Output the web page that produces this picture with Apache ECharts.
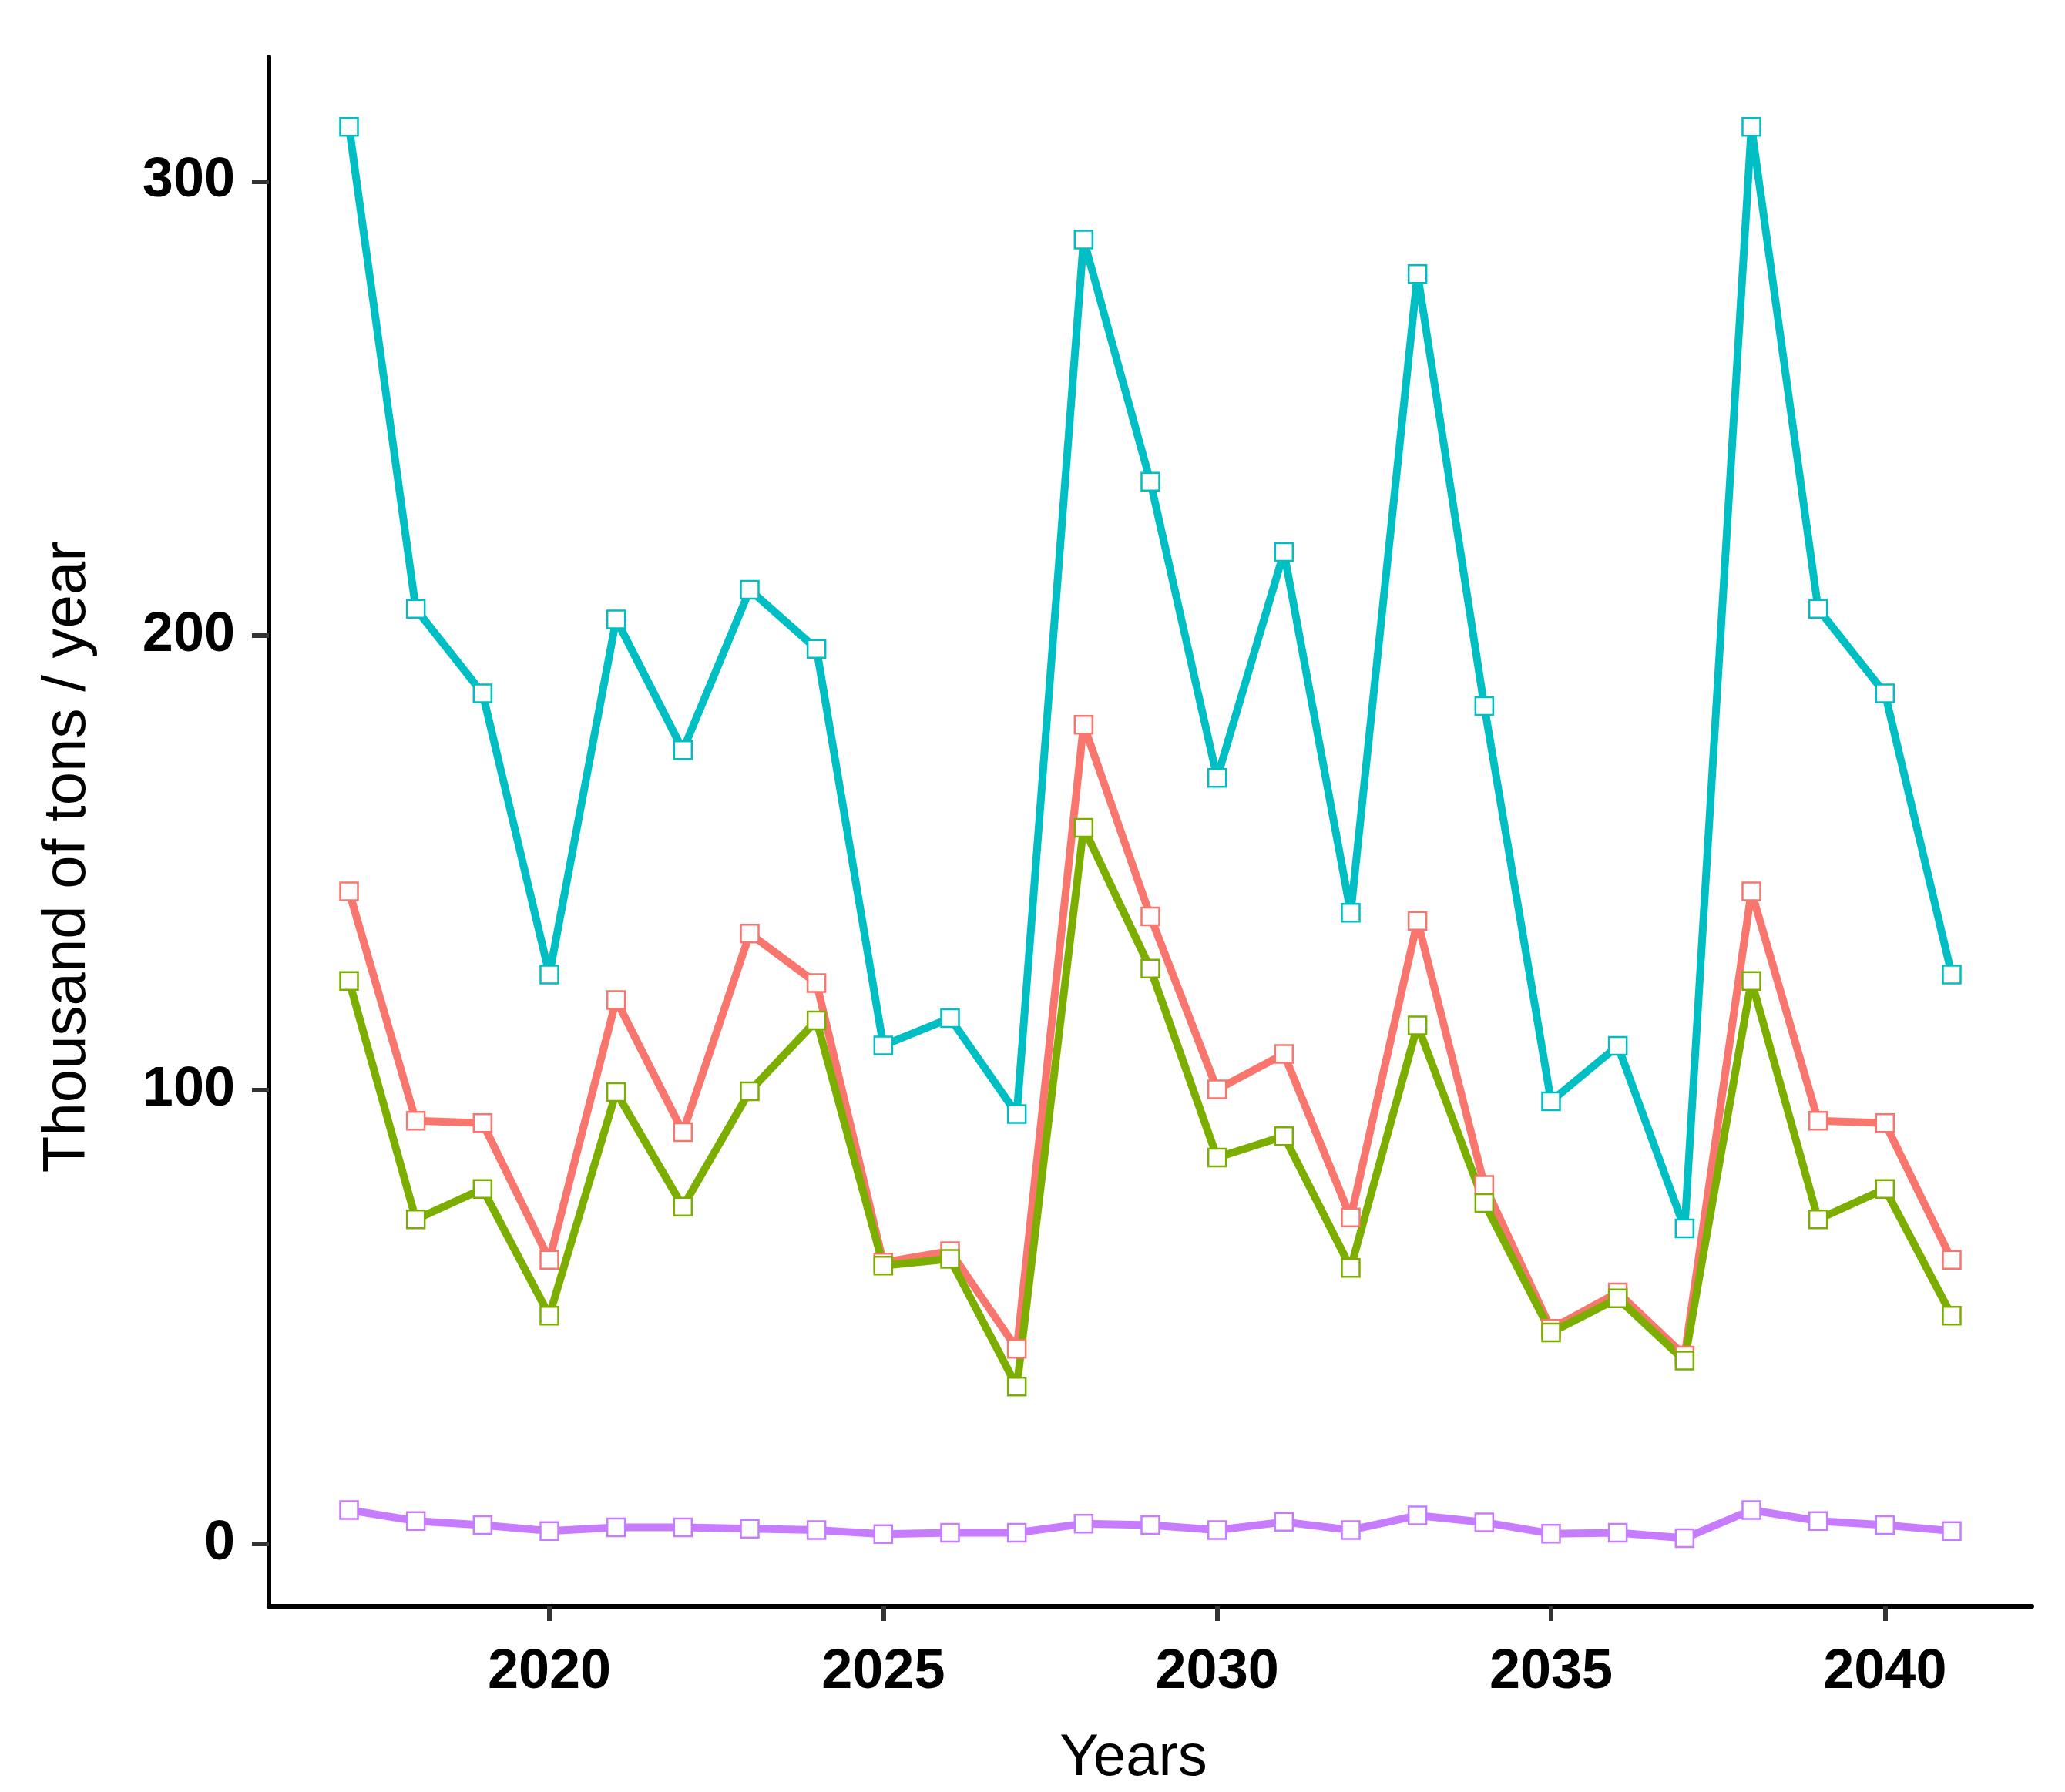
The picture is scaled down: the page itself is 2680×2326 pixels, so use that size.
<!DOCTYPE html>
<html>
<head>
<meta charset="utf-8">
<script src="https://cdn.jsdelivr.net/npm/echarts@6/dist/echarts.min.js"></script>
<style>
  html, body { margin: 0; padding: 0; background: #fff; }
  #chart { width: 2680px; height: 2326px; }
</style>
</head>
<body>
<div id="chart"></div>
<script>
// data
var years = [2017, 2018, 2019, 2020, 2021, 2022, 2023, 2024, 2025, 2026, 2027, 2028,
  2029, 2030, 2031, 2032, 2033, 2034, 2035, 2036, 2037, 2038, 2039, 2040, 2041]

var redValues = [143.7, 93.2, 92.7, 62.6, 119.8, 90.7, 134.4, 123.5, 62.0, 64.5, 43.0, 180.4,
  138.2, 100.1, 107.9, 71.9, 137.2, 79.1, 47.4, 55.4, 41.5, 143.7, 93.2, 92.7, 62.6]
var greenValues = [124.0, 71.5, 78.2, 50.3, 99.5, 74.3, 99.7, 115.3, 61.3, 62.8, 34.7, 157.7,
  126.7, 85.1, 89.8, 60.8, 114.2, 75.1, 46.6, 54.1, 40.4, 124.0, 71.5, 78.2, 50.3]
var cyanValues = [312.0, 205.9, 187.3, 125.4, 203.6, 174.8, 210.1, 197.1, 109.8, 115.8, 94.7, 287.2,
  233.9, 168.7, 218.4, 139.0, 279.6, 184.5, 97.5, 109.7, 69.5, 312.0, 205.9, 187.3, 125.4]
var purpleValues = [7.5, 5.1, 4.2, 2.9, 3.7, 3.7, 3.4, 3.1, 2.2, 2.5, 2.5, 4.5,
  4.2, 3.1, 4.9, 3.1, 6.3, 4.8, 2.3, 2.5, 1.3, 7.5, 5.1, 4.2, 2.9]

var xTicks = [2020, 2025, 2030, 2035, 2040]
var yTicks = [0, 100, 200, 300]

var colors = ['#F8766D', '#7CAE00', '#00BFC4', '#C77CFF']
var allValues = [redValues, greenValues, cyanValues, purpleValues]

function pairs(vals) {
  return years.map(function (y, i) { return [y, vals[i]] })
}

var series = []
allValues.forEach(function (vals, i) {
  series.push({
    type: 'line',
    data: pairs(vals),
    showSymbol: false,
    lineStyle: { color: colors[i], width: 10 },
    z: 2
  })
})
// points on top of every line, like ggplot's point layer
allValues.forEach(function (vals, i) {
  series.push({
    type: 'scatter',
    data: pairs(vals),
    symbol: 'rect',
    symbolSize: 23,
    itemStyle: { color: '#ffffff', borderColor: colors[i], borderWidth: 2.5, opacity: 1 },
    z: 3
  })
})

var chart = echarts.init(document.getElementById('chart'), null, { renderer: 'canvas' })
chart.setOption({
  animation: false,
  backgroundColor: '#ffffff',
  grid: { left: 349, right: 43, top: 74, bottom: 237, containLabel: false },
  xAxis: {
    type: 'value',
    min: 2015.8,
    max: 2042.2,
    name: 'Years',
    nameLocation: 'middle',
    nameGap: 160,
    nameTextStyle: { fontFamily: 'Liberation Sans', fontSize: 76, color: '#000', padding: [0, 44, 0, 0] },
    splitLine: { show: false },
    axisLine: { show: true, onZero: false, lineStyle: { color: '#000', width: 6 } },
    axisTick: { show: true, length: 19, customValues: xTicks, lineStyle: { color: '#333', width: 6 } },
    axisLabel: {
      customValues: xTicks,
      formatter: function (v) { return String(v) },
      margin: 50,
      fontFamily: 'Liberation Sans',
      fontWeight: 'bold',
      fontSize: 72,
      color: '#000'
    }
  },
  yAxis: {
    type: 'value',
    min: -13.7,
    max: 327.4,
    name: 'Thousand of tons / year',
    nameLocation: 'middle',
    nameGap: 222,
    nameTextStyle: { fontFamily: 'Liberation Sans', fontSize: 78, color: '#000', padding: [0, 66, 0, 0] },
    splitLine: { show: false },
    axisLine: { show: true, onZero: false, lineStyle: { color: '#000', width: 6 } },
    axisTick: { show: true, length: 22, customValues: yTicks, lineStyle: { color: '#333', width: 6 } },
    axisLabel: {
      customValues: yTicks,
      margin: 44,
      fontFamily: 'Liberation Sans',
      fontWeight: 'bold',
      fontSize: 72,
      color: '#000'
    }
  },
  series: series
})
</script>
</body>
</html>
